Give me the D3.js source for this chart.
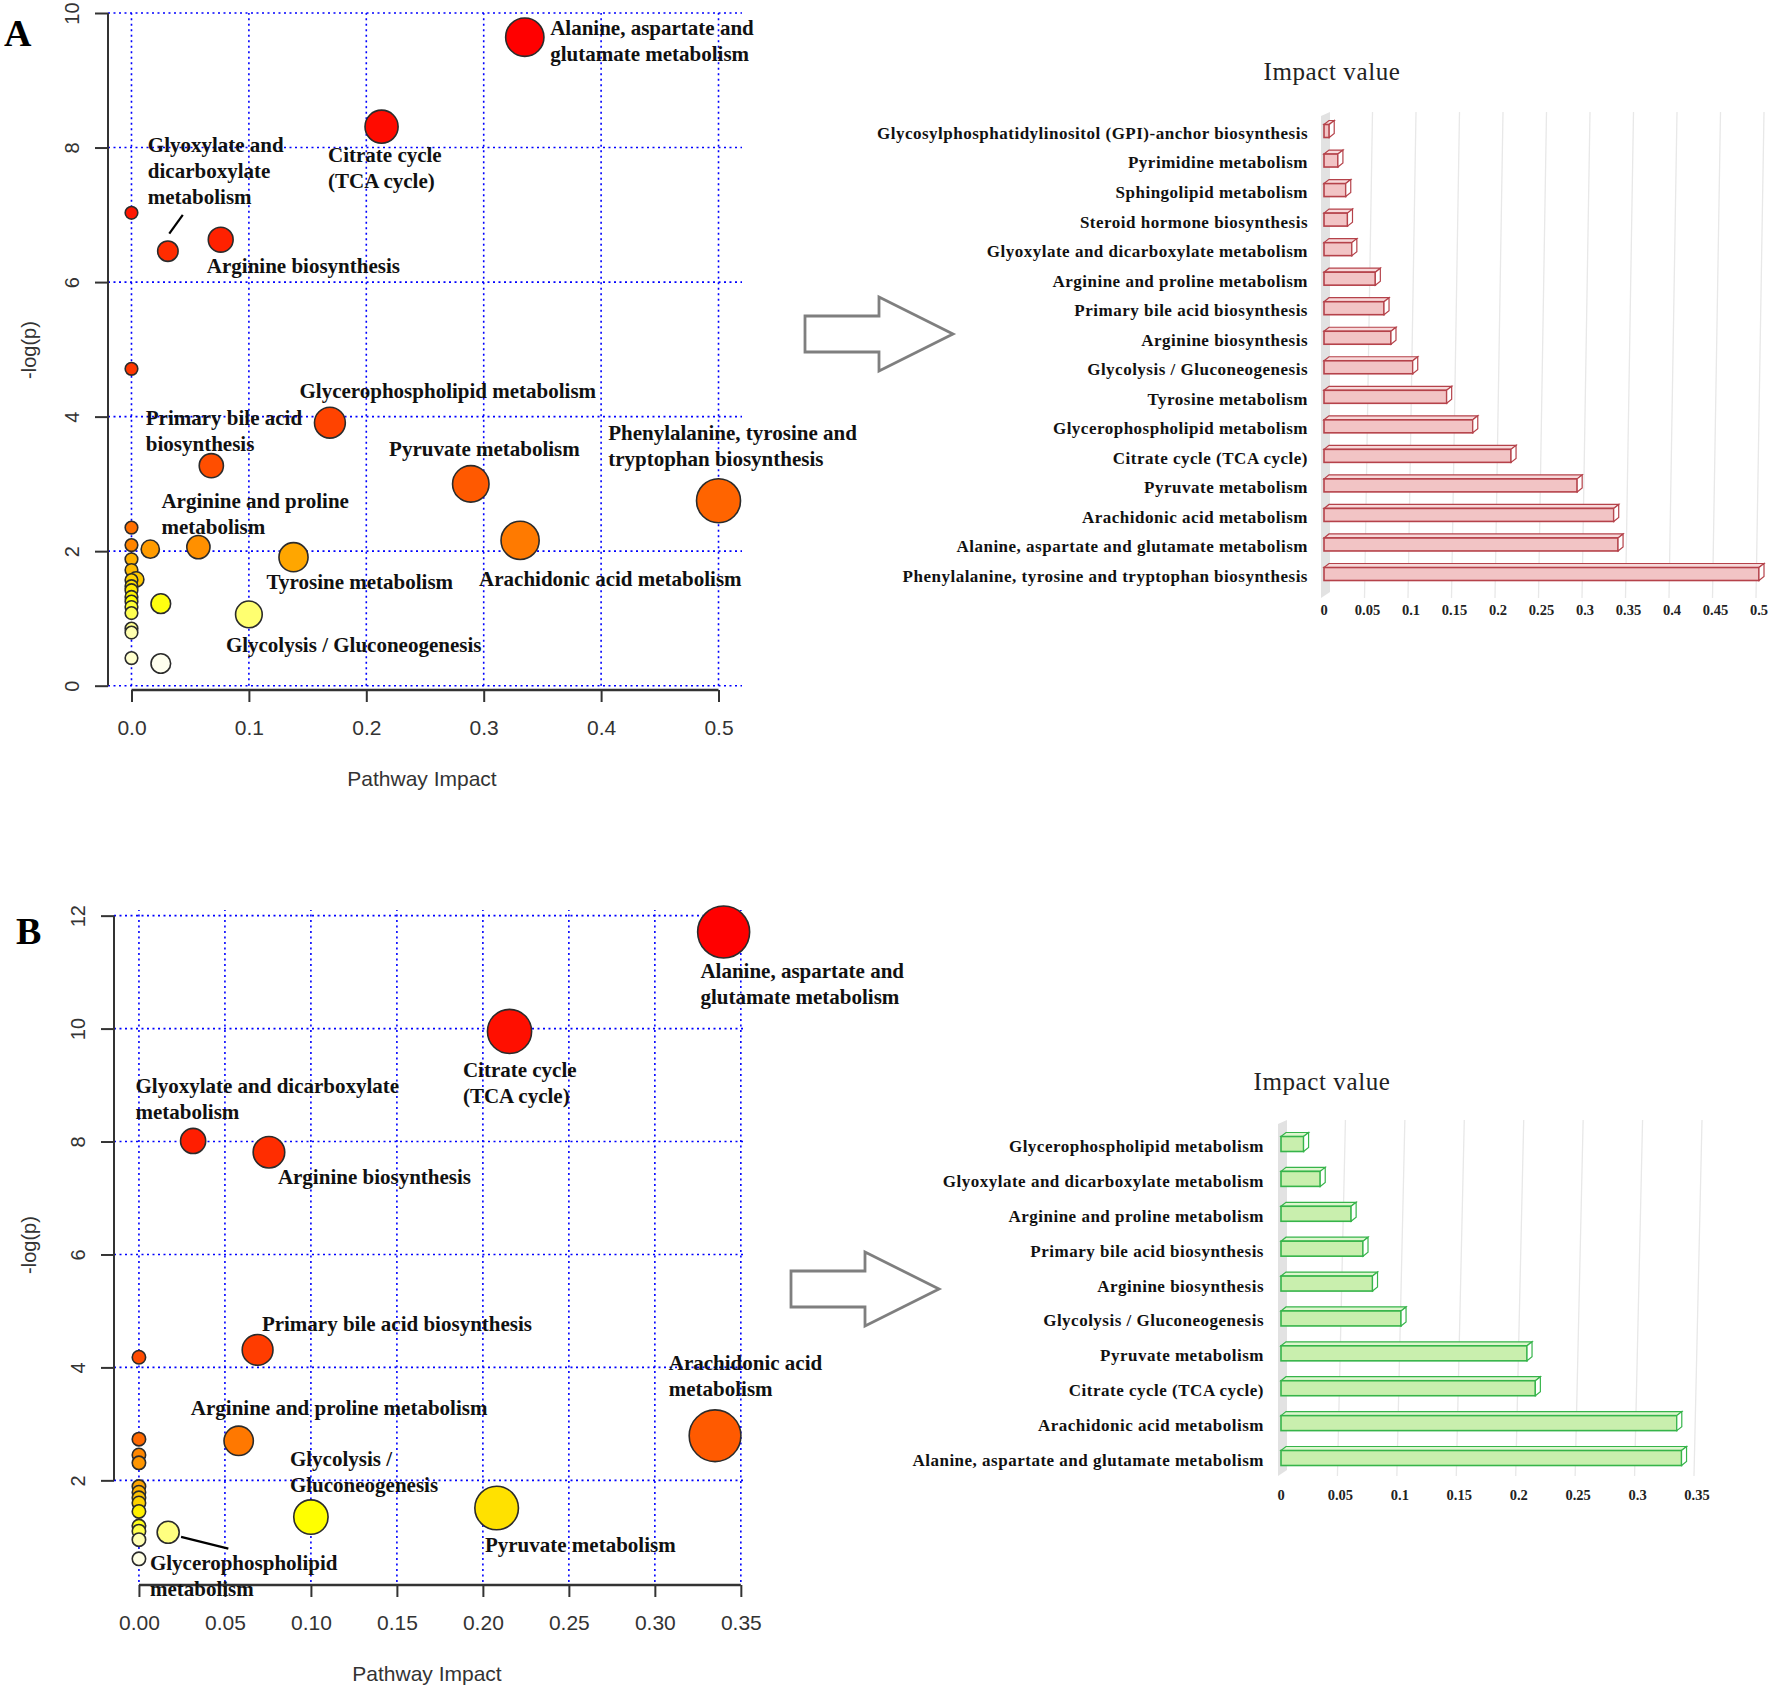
<!DOCTYPE html>
<html>
<head>
<meta charset="utf-8">
<script src="https://cdn.jsdelivr.net/npm/d3@7"></script>
<style>
  body { margin: 0; background: #fff; }
  svg { display: block; }
</style>
</head>
<body>
<div id="chart"></div>
<script>
// ---- data: panel A scatter (pathway impact vs -log(p)) ----
var aImpact = [0.335, 0.213, 0, 0.076, 0.031, 0, 0.169, 0.068, 0.289, 0.5, 0, 0.331, 0, 0.057, 0.016, 0.138,
               0, 0, 0.004, 0, 0, 0, 0, 0, 0.025, 0, 0, 0.1, 0, 0, 0, 0.025];
var aLogP   = [9.64, 8.31, 7.03, 6.63, 6.46, 4.71, 3.91, 3.27, 3.00, 2.75, 2.35, 2.16, 2.09, 2.06, 2.03, 1.91,
               1.88, 1.72, 1.58, 1.57, 1.48, 1.42, 1.32, 1.25, 1.22, 1.17, 1.08, 1.06, 0.85, 0.79, 0.41, 0.33];
var aXTicks = [0, 0.1, 0.2, 0.3, 0.4, 0.5];
var aYTicks = [0, 2, 4, 6, 8, 10];
var aLabels = [
  ["Alanine, aspartate and", "glutamate metabolism"],
  ["Citrate cycle", "(TCA cycle)"],
  ["Glyoxylate and", "dicarboxylate", "metabolism"],
  ["Arginine biosynthesis"],
  ["Glycerophospholipid metabolism"],
  ["Primary bile acid", "biosynthesis"],
  ["Pyruvate metabolism"],
  ["Phenylalanine, tyrosine and", "tryptophan biosynthesis"],
  ["Arginine and proline", "metabolism"],
  ["Tyrosine metabolism"],
  ["Arachidonic acid metabolism"],
  ["Glycolysis / Gluconeogenesis"]
];
// label anchors in data units (impact, -log p)
var aLabelX = [0.3566, 0.1674, 0.0139, 0.0642, 0.1431, 0.0122, 0.2194, 0.406, 0.0255, 0.1151, 0.2961, 0.0804];
var aLabelY = [9.68, 7.78, 7.93, 6.13, 4.27, 3.87, 3.41, 3.65, 2.64, 1.44, 1.48, 0.50];

// ---- data: panel B scatter ----
var bImpact = [0.340, 0.2155, 0.0315, 0.0756, 0.069, 0, 0.335, 0, 0.058, 0, 0, 0, 0, 0, 0, 0.208, 0, 0.100,
               0, 0, 0.017, 0, 0];
var bLogP   = [11.71, 9.95, 8.01, 7.81, 4.31, 4.18, 2.79, 2.73, 2.70, 2.45, 2.31, 1.89, 1.79, 1.69, 1.60, 1.51,
               1.45, 1.35, 1.19, 1.10, 1.08, 0.95, 0.61];
var bXTicks = [0, 0.05, 0.10, 0.15, 0.20, 0.25, 0.30, 0.35];
var bYTicks = [2, 4, 6, 8, 10, 12];
var bLabels = [
  ["Alanine, aspartate and", "glutamate metabolism"],
  ["Citrate cycle", "(TCA cycle)"],
  ["Glyoxylate and dicarboxylate", "metabolism"],
  ["Arginine biosynthesis"],
  ["Primary bile acid biosynthesis"],
  ["Arachidonic acid", "metabolism"],
  ["Arginine and proline metabolism"],
  ["Glycolysis /", "Gluconeogenesis"],
  ["Pyruvate metabolism"],
  ["Glycerophospholipid", "metabolism"]
];
var bLabelX = [0.3265, 0.1884, -0.002, 0.0808, 0.0715, 0.3081, 0.0302, 0.0878, 0.2012, 0.0064];
var bLabelY = [10.90, 9.145, 8.86, 7.24, 4.64, 3.96, 3.16, 2.26, 0.74, 0.42];

// ---- data: impact value bars ----
var barACats = ["Glycosylphosphatidylinositol (GPI)-anchor biosynthesis", "Pyrimidine metabolism",
  "Sphingolipid metabolism", "Steroid hormone biosynthesis", "Glyoxylate and dicarboxylate metabolism",
  "Arginine and proline metabolism", "Primary bile acid biosynthesis", "Arginine biosynthesis",
  "Glycolysis / Gluconeogenesis", "Tyrosine metabolism", "Glycerophospholipid metabolism",
  "Citrate cycle (TCA cycle)", "Pyruvate metabolism", "Arachidonic acid metabolism",
  "Alanine, aspartate and glutamate metabolism", "Phenylalanine, tyrosine and tryptophan biosynthesis"];
var barAVals = [0.006, 0.016, 0.025, 0.027, 0.032, 0.059, 0.069, 0.077, 0.102, 0.141, 0.171, 0.215, 0.291, 0.333, 0.338, 0.5];
var barATicks = [0, 0.05, 0.1, 0.15, 0.2, 0.25, 0.3, 0.35, 0.4, 0.45, 0.5];

var barBCats = ["Glycerophospholipid metabolism", "Glyoxylate and dicarboxylate metabolism",
  "Arginine and proline metabolism", "Primary bile acid biosynthesis", "Arginine biosynthesis",
  "Glycolysis / Gluconeogenesis", "Pyruvate metabolism", "Citrate cycle (TCA cycle)",
  "Arachidonic acid metabolism", "Alanine, aspartate and glutamate metabolism"];
var barBVals = [0.019, 0.033, 0.059, 0.069, 0.077, 0.101, 0.207, 0.214, 0.333, 0.337];
var barBTicks = [0, 0.05, 0.1, 0.15, 0.2, 0.25, 0.3, 0.35];

var W = 1772, H = 1692;
var serif = "'Liberation Serif', 'Times New Roman', serif";
var sans = "'Liberation Sans', Arial, sans-serif";

var svg = d3.select("#chart").append("svg")
    .attr("width", W).attr("height", H)
    .style("background", "#fff");

// R heat.colors(n), most significant first
function heatColors(n) {
  var j = Math.floor(n / 4), i = n - j, out = [];
  for (var k = 0; k < i; k++) out.push(d3.hsl(i > 1 ? 60 * k / (i - 1) : 0, 1, 0.5).toString());
  for (var k2 = 0; k2 < j; k2++) {
    var s = j > 1 ? (1 - 1 / (2 * j)) - k2 * ((1 - 1 / j) / (j - 1)) : 0.5;
    // hsv(1/6, s, 1) -> rgb
    out.push(d3.rgb(255, 255, Math.round(255 * (1 - s))).toString());
  }
  return out;
}

// scatter panel drawing
function scatterPanel(cfg) {
  var g = svg.append("g");
  var x = cfg.x, y = cfg.y;
  var xr = x.range(), yr = y.range();

  // blue dotted grid
  g.selectAll(".hg").data(cfg.yTicks).enter().append("line")
    .attr("x1", xr[0]).attr("x2", xr[1])
    .attr("y1", function (d) { return y(d); }).attr("y2", function (d) { return y(d); })
    .attr("stroke", "#0000ff").attr("stroke-width", 1.6).attr("stroke-dasharray", "2,3.5");
  g.selectAll(".vg").data(cfg.xTicks).enter().append("line")
    .attr("y1", cfg.gridBottom).attr("y2", yr[1])
    .attr("x1", function (d) { return x(d); }).attr("x2", function (d) { return x(d); })
    .attr("stroke", "#0000ff").attr("stroke-width", 1.6).attr("stroke-dasharray", "2,3.5");

  // left axis (R style)
  var ya = g.append("g").attr("transform", "translate(" + xr[0] + ",0)")
    .call(d3.axisLeft(y).tickValues(cfg.yTicks).tickSize(13).tickSizeOuter(0).tickFormat(d3.format("d")));
  ya.select(".domain").attr("d", "M0," + y(cfg.yTicks[0]) + "V" + y(cfg.yTicks[cfg.yTicks.length - 1]))
    .attr("stroke", "#333").attr("stroke-width", 2);
  ya.selectAll(".tick line").attr("stroke", "#333").attr("stroke-width", 2);
  ya.selectAll(".tick text").attr("transform", "rotate(-90)").attr("x", 0).attr("y", -36)
    .attr("dy", "0.35em").attr("text-anchor", "middle")
    .style("font-family", sans).style("font-size", "20px").attr("fill", "#333");

  // bottom axis
  var xa = g.append("g").attr("transform", "translate(0," + cfg.axisY + ")")
    .call(d3.axisBottom(x).tickValues(cfg.xTicks).tickSize(12).tickSizeOuter(0).tickFormat(cfg.xFmt));
  xa.select(".domain").attr("d", "M" + x(cfg.xTicks[0]) + ",0H" + x(cfg.xTicks[cfg.xTicks.length - 1]))
    .attr("stroke", "#333").attr("stroke-width", 2.5);
  xa.selectAll(".tick line").attr("stroke", "#333").attr("stroke-width", 2);
  xa.selectAll(".tick text").attr("y", 30).attr("dy", "0.71em")
    .style("font-family", sans).style("font-size", "21px").attr("fill", "#333");

  g.append("text").attr("x", (xr[0] + xr[1]) / 2 - 3).attr("y", cfg.axisY + 96)
    .attr("text-anchor", "middle").style("font-family", sans).style("font-size", "21px")
    .attr("fill", "#333").text("Pathway Impact");
  g.append("text").attr("transform", "translate(" + 36 + "," + cfg.yLabelY + ") rotate(-90)")
    .attr("text-anchor", "middle").style("font-family", sans).style("font-size", "20px")
    .attr("fill", "#333").text("-log(p)");

  // pointer lines
  (cfg.pointers || []).forEach(function (p) {
    g.append("line").attr("x1", x(p[0])).attr("y1", y(p[1])).attr("x2", x(p[2])).attr("y2", y(p[3]))
      .attr("stroke", "#000").attr("stroke-width", 2.2);
  });

  // points
  var n = cfg.impact.length;
  var cols = heatColors(n);
  var pts = d3.range(n).map(function (i) {
    return { x: cfg.impact[i], y: cfg.logp[i], c: cols[i] };
  });
  var r = d3.scaleSqrt().domain([0, d3.max(cfg.impact)]).range(cfg.rRange);
  g.selectAll("circle").data(pts).enter().append("circle")
    .attr("cx", function (d) { return x(d.x); })
    .attr("cy", function (d) { return y(d.y); })
    .attr("r", function (d) { return r(d.x); })
    .attr("fill", function (d) { return d.c; })
    .attr("stroke", "#2b2b2b").attr("stroke-width", 1.6);

  // labels
  cfg.labels.forEach(function (lines, i) {
    var t = g.append("text").attr("x", x(cfg.labelX[i])).attr("y", y(cfg.labelY[i]))
      .style("font-family", serif).style("font-weight", "bold").style("font-size", "21px").attr("fill", "#111");
    lines.forEach(function (s, k) {
      t.append("tspan").attr("x", x(cfg.labelX[i])).attr("dy", k === 0 ? 0 : 26).text(s);
    });
  });

  g.append("text").attr("x", cfg.letter[0]).attr("y", cfg.letter[1])
    .style("font-family", serif).style("font-weight", "bold").style("font-size", "38px").text(cfg.letterText);
}

var xA = d3.scaleLinear().domain([-0.02, 0.52]).range([108, 742]);
var yA = d3.scaleLinear().domain([0, 10]).range([685.7, 13]);
scatterPanel({
  x: xA, y: yA, xTicks: aXTicks, yTicks: aYTicks, gridBottom: yA(0), axisY: 690,
  xFmt: d3.format(".1f"), yLabelY: 350, rRange: [6.3, 22],
  impact: aImpact, logp: aLogP, labels: aLabels, labelX: aLabelX, labelY: aLabelY,
  pointers: [[0.0437, 7.0, 0.0322, 6.72]],
  letter: [4, 46], letterText: "A"
});

var xB = d3.scaleLinear().domain([-0.0145, 0.353]).range([114, 746]);
var yB = d3.scaleLinear().domain([0.2, 12.1]).range([1582, 910]);
scatterPanel({
  x: xB, y: yB, xTicks: bXTicks, yTicks: bYTicks, gridBottom: 1582, axisY: 1585,
  xFmt: d3.format(".2f"), yLabelY: 1245, rRange: [6.7, 26],
  impact: bImpact, logp: bLogP, labels: bLabels, labelX: bLabelX, labelY: bLabelY,
  pointers: [[0.0245, 1.0, 0.052, 0.79]],
  letter: [16, 944], letterText: "B"
});

// hollow arrows
function arrow(x0, yc) {
  var p = [[0, -18], [74, -18], [74, -37], [148, 0], [74, 37], [74, 18], [0, 18]];
  svg.append("path")
    .attr("d", "M" + p.map(function (q) { return (x0 + q[0]) + "," + (yc + q[1]); }).join("L") + "Z")
    .attr("fill", "#fff").attr("stroke", "#7f7f7f").attr("stroke-width", 2.8);
}
arrow(805, 334);
arrow(791, 1289);

// 3D-looking horizontal bar chart
function barPanel(cfg) {
  var g = svg.append("g");
  var x = d3.scaleLinear().domain([0, cfg.max]).range(cfg.xRange);
  var y = d3.scalePoint().domain(cfg.cats).range(cfg.yRange);
  var top = cfg.gridTop, bot = cfg.gridBottom, x0 = x(0);

  g.append("text").attr("x", cfg.titleX).attr("y", cfg.titleY).attr("text-anchor", "middle")
    .style("font-family", serif).style("font-size", "25px").style("letter-spacing", "0.6px")
    .attr("fill", "#222").text("Impact value");

  // side wall and grid
  g.append("path").attr("d", "M" + (x0 - 3) + "," + (top + 4) + "L" + (x0 + 6) + "," + top +
      "L" + (x0 + 6) + "," + (bot - 6) + "L" + (x0 - 3) + "," + bot + "Z").attr("fill", "#e2e2e2");
  g.selectAll(".gl").data(cfg.ticks.slice(1)).enter().append("line")
    .attr("x1", function (d) { return x(d) + 5; }).attr("x2", function (d) { return x(d) - 3; })
    .attr("y1", top).attr("y2", bot).attr("stroke", "#e8e8e8").attr("stroke-width", 1.3);

  g.selectAll(".tl").data(cfg.ticks).enter().append("text")
    .attr("x", function (d) { return x(d); }).attr("y", cfg.tickY).attr("text-anchor", "middle")
    .style("font-family", serif).style("font-weight", "bold").style("font-size", "14.5px").attr("fill", "#222")
    .text(function (d) { return String(d); });

  g.selectAll(".cl").data(cfg.cats).enter().append("text")
    .attr("x", cfg.labelX).attr("y", function (d) { return y(d); }).attr("dy", "0.35em")
    .attr("text-anchor", "end").style("font-family", serif).style("font-weight", "bold")
    .style("font-size", "17px").style("letter-spacing", "0.5px")
    .attr("fill", "#111").text(function (d) { return d; });

  var h = cfg.barH, dx = 5, dy = 4;
  cfg.cats.forEach(function (c, i) {
    var x1 = x(cfg.vals[i]), yt = y(c) - h / 2 - 2;
    g.append("path").attr("d", "M" + x0 + "," + yt + "L" + (x0 + dx) + "," + (yt - dy) + "L" + (x1 + dx) + "," +
        (yt - dy) + "L" + x1 + "," + yt + "Z").attr("fill", cfg.topFill).attr("stroke", cfg.stroke).attr("stroke-width", 1.2);
    g.append("rect").attr("x", x0).attr("y", yt).attr("width", x1 - x0).attr("height", h)
      .attr("fill", cfg.fill).attr("stroke", cfg.stroke).attr("stroke-width", 1.6);
    g.append("path").attr("d", "M" + x1 + "," + yt + "L" + (x1 + dx) + "," + (yt - dy) + "L" + (x1 + dx) + "," +
        (yt + h - dy) + "L" + x1 + "," + (yt + h) + "Z").attr("fill", "#fff").attr("stroke", cfg.stroke).attr("stroke-width", 1.2);
  });
}

barPanel({
  cats: barACats, vals: barAVals, ticks: barATicks, max: 0.5,
  xRange: [1324, 1759], yRange: [133, 576], gridTop: 112, gridBottom: 598, tickY: 615,
  labelX: 1308, titleX: 1332, titleY: 80, barH: 13,
  fill: "#f2c4c5", topFill: "#f7d9da", stroke: "#b5424a"
});
barPanel({
  cats: barBCats, vals: barBVals, ticks: barBTicks, max: 0.35,
  xRange: [1281, 1697], yRange: [1146, 1460], gridTop: 1120, gridBottom: 1476, tickY: 1500,
  labelX: 1264, titleX: 1322, titleY: 1090, barH: 15,
  fill: "#c9efae", topFill: "#dff6cf", stroke: "#36b44a"
});
</script>
</body>
</html>
